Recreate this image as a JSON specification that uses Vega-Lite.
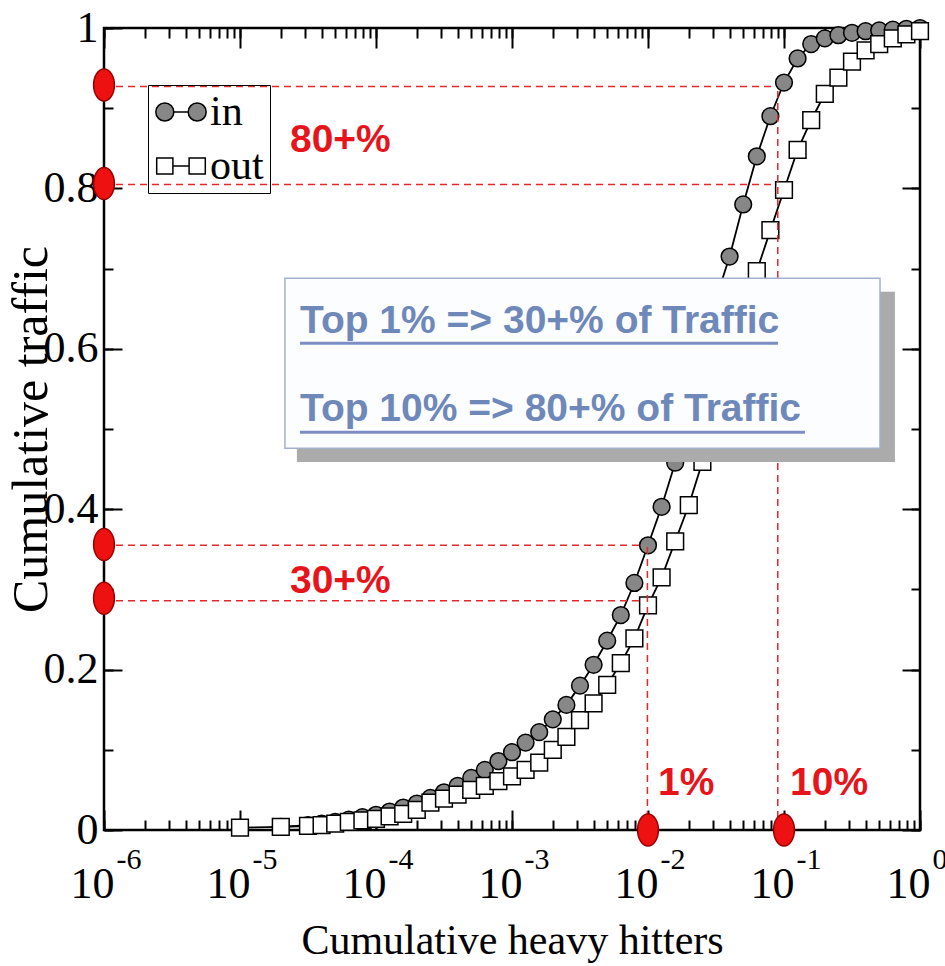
{
  "$schema": "https://vega.github.io/schema/vega-lite/v6.json",
  "width": 816,
  "height": 802,
  "autosize": {"type": "none"},
  "padding": {"left": 104, "top": 28, "right": 25, "bottom": 136},
  "background": "white",
  "config": {
    "view": {"stroke": "black", "strokeWidth": 2.5},
    "axis": {"grid": false, "domain": false, "tickColor": "black", "tickWidth": 2, "labelColor": "black", "titleColor": "black", "labelFlush": false, "labelOverlap": false, "labelFont": "Liberation Serif", "titleFont": "Liberation Serif", "titleFontWeight": "normal"}
  },
  "datasets": {
    "curve": [
      {"h": 0.00001995, "t": 0.004, "dir": "in"},
      {"h": 0.00003162, "t": 0.006, "dir": "in"},
      {"h": 0.00003981, "t": 0.008, "dir": "in"},
      {"h": 0.00005012, "t": 0.010, "dir": "in"},
      {"h": 0.0000631, "t": 0.013, "dir": "in"},
      {"h": 0.00007943, "t": 0.016, "dir": "in"},
      {"h": 0.0001, "t": 0.019, "dir": "in"},
      {"h": 0.0001259, "t": 0.023, "dir": "in"},
      {"h": 0.0001585, "t": 0.028, "dir": "in"},
      {"h": 0.0001995, "t": 0.033, "dir": "in"},
      {"h": 0.0002512, "t": 0.040, "dir": "in"},
      {"h": 0.0003162, "t": 0.047, "dir": "in"},
      {"h": 0.0003981, "t": 0.055, "dir": "in"},
      {"h": 0.0005012, "t": 0.065, "dir": "in"},
      {"h": 0.000631, "t": 0.075, "dir": "in"},
      {"h": 0.0007943, "t": 0.086, "dir": "in"},
      {"h": 0.001, "t": 0.097, "dir": "in"},
      {"h": 0.001259, "t": 0.109, "dir": "in"},
      {"h": 0.001585, "t": 0.122, "dir": "in"},
      {"h": 0.001995, "t": 0.138, "dir": "in"},
      {"h": 0.002512, "t": 0.156, "dir": "in"},
      {"h": 0.003162, "t": 0.180, "dir": "in"},
      {"h": 0.003981, "t": 0.206, "dir": "in"},
      {"h": 0.005012, "t": 0.236, "dir": "in"},
      {"h": 0.00631, "t": 0.268, "dir": "in"},
      {"h": 0.007943, "t": 0.308, "dir": "in"},
      {"h": 0.01, "t": 0.355, "dir": "in"},
      {"h": 0.01259, "t": 0.403, "dir": "in"},
      {"h": 0.01585, "t": 0.458, "dir": "in"},
      {"h": 0.01995, "t": 0.530, "dir": "in"},
      {"h": 0.02512, "t": 0.600, "dir": "in"},
      {"h": 0.03162, "t": 0.662, "dir": "in"},
      {"h": 0.03981, "t": 0.715, "dir": "in"},
      {"h": 0.05012, "t": 0.780, "dir": "in"},
      {"h": 0.0631, "t": 0.840, "dir": "in"},
      {"h": 0.07943, "t": 0.890, "dir": "in"},
      {"h": 0.1, "t": 0.932, "dir": "in"},
      {"h": 0.1259, "t": 0.962, "dir": "in"},
      {"h": 0.1585, "t": 0.980, "dir": "in"},
      {"h": 0.1995, "t": 0.987, "dir": "in"},
      {"h": 0.2512, "t": 0.991, "dir": "in"},
      {"h": 0.3162, "t": 0.994, "dir": "in"},
      {"h": 0.3981, "t": 0.996, "dir": "in"},
      {"h": 0.5012, "t": 0.997, "dir": "in"},
      {"h": 0.631, "t": 0.998, "dir": "in"},
      {"h": 0.7943, "t": 0.999, "dir": "in"},
      {"h": 1, "t": 1.0, "dir": "in"},
      {"h": 0.00001, "t": 0.003, "dir": "out"},
      {"h": 0.00001995, "t": 0.004, "dir": "out"},
      {"h": 0.00003162, "t": 0.005, "dir": "out"},
      {"h": 0.00003981, "t": 0.006, "dir": "out"},
      {"h": 0.00005012, "t": 0.008, "dir": "out"},
      {"h": 0.0000631, "t": 0.010, "dir": "out"},
      {"h": 0.00007943, "t": 0.012, "dir": "out"},
      {"h": 0.0001, "t": 0.014, "dir": "out"},
      {"h": 0.0001259, "t": 0.017, "dir": "out"},
      {"h": 0.0001585, "t": 0.020, "dir": "out"},
      {"h": 0.0001995, "t": 0.025, "dir": "out"},
      {"h": 0.0002512, "t": 0.034, "dir": "out"},
      {"h": 0.0003162, "t": 0.039, "dir": "out"},
      {"h": 0.0003981, "t": 0.044, "dir": "out"},
      {"h": 0.0005012, "t": 0.050, "dir": "out"},
      {"h": 0.000631, "t": 0.055, "dir": "out"},
      {"h": 0.0007943, "t": 0.061, "dir": "out"},
      {"h": 0.001, "t": 0.067, "dir": "out"},
      {"h": 0.001259, "t": 0.075, "dir": "out"},
      {"h": 0.001585, "t": 0.084, "dir": "out"},
      {"h": 0.001995, "t": 0.100, "dir": "out"},
      {"h": 0.002512, "t": 0.116, "dir": "out"},
      {"h": 0.003162, "t": 0.137, "dir": "out"},
      {"h": 0.003981, "t": 0.158, "dir": "out"},
      {"h": 0.005012, "t": 0.181, "dir": "out"},
      {"h": 0.00631, "t": 0.208, "dir": "out"},
      {"h": 0.007943, "t": 0.239, "dir": "out"},
      {"h": 0.01, "t": 0.280, "dir": "out"},
      {"h": 0.01259, "t": 0.315, "dir": "out"},
      {"h": 0.01585, "t": 0.360, "dir": "out"},
      {"h": 0.01995, "t": 0.405, "dir": "out"},
      {"h": 0.02512, "t": 0.459, "dir": "out"},
      {"h": 0.03162, "t": 0.520, "dir": "out"},
      {"h": 0.03981, "t": 0.580, "dir": "out"},
      {"h": 0.05012, "t": 0.640, "dir": "out"},
      {"h": 0.0631, "t": 0.697, "dir": "out"},
      {"h": 0.07943, "t": 0.748, "dir": "out"},
      {"h": 0.1, "t": 0.798, "dir": "out"},
      {"h": 0.1259, "t": 0.848, "dir": "out"},
      {"h": 0.1585, "t": 0.885, "dir": "out"},
      {"h": 0.1995, "t": 0.918, "dir": "out"},
      {"h": 0.2512, "t": 0.938, "dir": "out"},
      {"h": 0.3162, "t": 0.958, "dir": "out"},
      {"h": 0.3981, "t": 0.972, "dir": "out"},
      {"h": 0.5012, "t": 0.980, "dir": "out"},
      {"h": 0.631, "t": 0.987, "dir": "out"},
      {"h": 0.7943, "t": 0.992, "dir": "out"},
      {"h": 1, "t": 0.996, "dir": "out"}
    ],
    "hl": [
      {"x": 0.000001, "x2": 0.086, "y": 0.927},
      {"x": 0.000001, "x2": 0.088, "y": 0.805},
      {"x": 0.000001, "x2": 0.0088, "y": 0.355},
      {"x": 0.000001, "x2": 0.0088, "y": 0.286}
    ],
    "vl": [
      {"x": 0.0099, "y": 0, "y2": 0.355},
      {"x": 0.09, "y": 0, "y2": 0.927}
    ],
    "dots": [
      {"x": 0.000001, "y": 0.929},
      {"x": 0.000001, "y": 0.806},
      {"x": 0.000001, "y": 0.356},
      {"x": 0.000001, "y": 0.289},
      {"x": 0.01, "y": 0},
      {"x": 0.1, "y": 0}
    ],
    "shadow": [{"x": 0.0000262, "x2": 0.654, "y": 0.671, "y2": 0.459}],
    "box": [{"x": 0.0000214, "x2": 0.508, "y": 0.688, "y2": 0.476}],
    "msg": [
      {"x": 0.0000276, "y": 0.62, "label": "Top 1% => 30+% of Traffic"},
      {"x": 0.0000276, "y": 0.51, "label": "Top 10% => 80+% of Traffic"}
    ],
    "uline": [
      {"x": 0.0000276, "x2": 0.0904, "y": 0.607},
      {"x": 0.0000276, "x2": 0.1426, "y": 0.496}
    ],
    "pct": [
      {"x": 0.0000233, "y": 0.845, "label": "80+%"},
      {"x": 0.0000233, "y": 0.295, "label": "30+%"},
      {"x": 0.01186, "y": 0.044, "label": "1%"},
      {"x": 0.1107, "y": 0.044, "label": "10%"}
    ]
  },
  "layer": [
    {
      "data": {"name": "curve"},
      "mark": {"type": "line", "color": "black", "strokeWidth": 1.8},
      "encoding": {
        "x": {"field": "h", "type": "quantitative", "scale": {"type": "log", "domain": [0.000001, 1]},
          "axis": {"orient": "bottom", "values": [0.000001, 0.00001, 0.0001, 0.001, 0.01, 0.1, 1], "tickSize": -20, "labelExpr": "'10'", "labelFontSize": 44, "labelPadding": 52, "labelOffset": -12, "title": "Cumulative heavy hitters", "titleFontSize": 42, "titlePadding": 14}},
        "y": {"field": "t", "type": "quantitative", "scale": {"domain": [0, 1]},
          "axis": {"orient": "left", "values": [0, 0.2, 0.4, 0.6, 0.8, 1], "format": "~g", "tickSize": -18, "labelFontSize": 44, "labelPadding": 24, "title": "Cumulative traffic", "titleFontSize": 50, "titlePadding": -13}},
        "detail": {"field": "dir"}
      }
    },
    {
      "data": {"name": "curve"},
      "transform": [{"filter": "datum.dir === 'in'"}],
      "mark": {"type": "point", "shape": "circle", "filled": true, "fill": "#878787", "stroke": "black", "strokeWidth": 1.5, "size": 280, "opacity": 1},
      "encoding": {
        "x": {"field": "h", "type": "quantitative", "scale": {"type": "log", "domain": [0.000001, 1]},
          "axis": {"orient": "bottom", "values": [0.000001, 0.000002, 0.000003, 0.000004, 0.000005, 0.000006, 0.000007, 0.000008, 0.000009, 0.00001, 0.00002, 0.00003, 0.00004, 0.00005, 0.00006, 0.00007, 0.00008, 0.00009, 0.0001, 0.0002, 0.0003, 0.0004, 0.0005, 0.0006, 0.0007, 0.0008, 0.0009, 0.001, 0.002, 0.003, 0.004, 0.005, 0.006, 0.007, 0.008, 0.009, 0.01, 0.02, 0.03, 0.04, 0.05, 0.06, 0.07, 0.08, 0.09, 0.1, 0.2, 0.3, 0.4, 0.5, 0.6, 0.7, 0.8, 0.9, 1],
            "tickSize": -10, "labelExpr": "abs(log(datum.value)/LN10 - round(log(datum.value)/LN10)) < 0.001 ? (round(log(datum.value)/LN10) == 0 ? '0' : '-' + (-round(log(datum.value)/LN10))) : ''", "labelFontSize": 30, "labelAlign": "left", "labelOffset": 12, "labelPadding": 24, "title": null}},
        "y": {"field": "t", "type": "quantitative", "scale": {"domain": [0, 1]},
          "axis": {"orient": "left", "values": [0, 0.1, 0.2, 0.3, 0.4, 0.5, 0.6, 0.7, 0.8, 0.9, 1], "tickSize": -9, "labels": false, "title": null}}
      }
    },
    {
      "data": {"name": "curve"},
      "transform": [{"filter": "datum.dir === 'out'"}],
      "mark": {"type": "point", "shape": "square", "filled": true, "fill": "#ffffff", "stroke": "black", "strokeWidth": 1.5, "size": 280, "opacity": 1},
      "encoding": {
        "x": {"field": "h", "type": "quantitative", "scale": {"type": "log", "domain": [0.000001, 1]}, "axis": null},
        "y": {"field": "t", "type": "quantitative", "scale": {"domain": [0, 1]}, "axis": null}
      }
    },
    {
      "data": {"name": "curve"},
      "transform": [{"filter": "false"}],
      "mark": {"type": "point", "filled": true, "strokeWidth": 1.5, "opacity": 1},
      "encoding": {
        "x": {"field": "h", "type": "quantitative", "scale": {"type": "log", "domain": [0.000001, 1]}, "axis": null},
        "y": {"field": "t", "type": "quantitative", "scale": {"domain": [0, 1]}, "axis": null},
        "shape": {"field": "dir", "type": "nominal",
          "scale": {"domain": ["in", "out"], "range": ["M-2.8 0 A1 1 0 1 0 -0.8 0 A1 1 0 1 0 -2.8 0 Z M0.8 0 A1 1 0 1 0 2.8 0 A1 1 0 1 0 0.8 0 Z M-0.8 0 L0.8 0", "M-2.7 -0.9 H-0.9 V0.9 H-2.7 Z M0.9 -0.9 H2.7 V0.9 H0.9 Z M-0.9 0 L0.9 0"]},
          "legend": {"orient": "none", "legendX": 44, "legendY": 57, "title": null, "labelFont": "Liberation Serif", "labelFontSize": 42, "labelColor": "black", "padding": 6, "rowPadding": 12, "symbolSize": 324, "symbolOffset": 6, "labelOffset": 8, "symbolStrokeWidth": 1.5, "strokeColor": "black"}},
        "fill": {"field": "dir", "type": "nominal", "scale": {"domain": ["in", "out"], "range": ["#878787", "#ffffff"]}},
        "stroke": {"field": "dir", "type": "nominal", "scale": {"domain": ["in", "out"], "range": ["black", "black"]}}
      }
    },
    {
      "data": {"name": "hl"},
      "mark": {"type": "rule", "color": "#e8262c", "strokeWidth": 1.5, "strokeDash": [7, 5]},
      "encoding": {
        "x": {"field": "x", "type": "quantitative", "scale": {"type": "log", "domain": [0.000001, 1]},
          "axis": {"orient": "top", "values": [0.000001, 0.00001, 0.0001, 0.001, 0.01, 0.1, 1], "tickSize": -20, "labels": false, "title": null}},
        "x2": {"field": "x2"},
        "y": {"field": "y", "type": "quantitative", "scale": {"domain": [0, 1]},
          "axis": {"orient": "right", "values": [0, 0.2, 0.4, 0.6, 0.8, 1], "tickSize": -18, "labels": false, "title": null}}
      }
    },
    {
      "data": {"name": "vl"},
      "mark": {"type": "rule", "color": "#e8262c", "strokeWidth": 1.5, "strokeDash": [7, 5]},
      "encoding": {
        "x": {"field": "x", "type": "quantitative", "scale": {"type": "log", "domain": [0.000001, 1]},
          "axis": {"orient": "top", "values": [0.000001, 0.000002, 0.000003, 0.000004, 0.000005, 0.000006, 0.000007, 0.000008, 0.000009, 0.00001, 0.00002, 0.00003, 0.00004, 0.00005, 0.00006, 0.00007, 0.00008, 0.00009, 0.0001, 0.0002, 0.0003, 0.0004, 0.0005, 0.0006, 0.0007, 0.0008, 0.0009, 0.001, 0.002, 0.003, 0.004, 0.005, 0.006, 0.007, 0.008, 0.009, 0.01, 0.02, 0.03, 0.04, 0.05, 0.06, 0.07, 0.08, 0.09, 0.1, 0.2, 0.3, 0.4, 0.5, 0.6, 0.7, 0.8, 0.9, 1], "tickSize": -10, "labels": false, "title": null}},
        "y": {"field": "y", "type": "quantitative", "scale": {"domain": [0, 1]},
          "axis": {"orient": "right", "values": [0, 0.1, 0.2, 0.3, 0.4, 0.5, 0.6, 0.7, 0.8, 0.9, 1], "tickSize": -9, "labels": false, "title": null}},
        "y2": {"field": "y2"}
      }
    },
    {
      "data": {"name": "dots"},
      "mark": {"type": "point", "filled": true, "shape": "M-0.65 0 A0.65 1 0 1 0 0.65 0 A0.65 1 0 1 0 -0.65 0 Z", "size": 1024, "fill": "#ee1111", "stroke": "#9a0000", "strokeWidth": 1.5, "opacity": 1},
      "encoding": {
        "x": {"field": "x", "type": "quantitative", "scale": {"type": "log", "domain": [0.000001, 1]}, "axis": null},
        "y": {"field": "y", "type": "quantitative", "scale": {"domain": [0, 1]}, "axis": null}
      }
    },
    {
      "data": {"name": "shadow"},
      "mark": {"type": "rect", "fill": "#ababab"},
      "encoding": {
        "x": {"field": "x", "type": "quantitative", "scale": {"type": "log", "domain": [0.000001, 1]}, "axis": null},
        "x2": {"field": "x2"},
        "y": {"field": "y", "type": "quantitative", "scale": {"domain": [0, 1]}, "axis": null},
        "y2": {"field": "y2"}
      }
    },
    {
      "data": {"name": "box"},
      "mark": {"type": "rect", "fill": "#fcfdff", "stroke": "#a3b1cc", "strokeWidth": 1.5},
      "encoding": {
        "x": {"field": "x", "type": "quantitative", "scale": {"type": "log", "domain": [0.000001, 1]}, "axis": null},
        "x2": {"field": "x2"},
        "y": {"field": "y", "type": "quantitative", "scale": {"domain": [0, 1]}, "axis": null},
        "y2": {"field": "y2"}
      }
    },
    {
      "data": {"name": "uline"},
      "mark": {"type": "rule", "color": "#7c8dc4", "strokeWidth": 3},
      "encoding": {
        "x": {"field": "x", "type": "quantitative", "scale": {"type": "log", "domain": [0.000001, 1]}, "axis": null},
        "x2": {"field": "x2"},
        "y": {"field": "y", "type": "quantitative", "scale": {"domain": [0, 1]}, "axis": null}
      }
    },
    {
      "data": {"name": "msg"},
      "mark": {"type": "text", "align": "left", "baseline": "alphabetic", "font": "Liberation Sans", "fontWeight": "bold", "fontSize": 39, "color": "#6f88ba"},
      "encoding": {
        "x": {"field": "x", "type": "quantitative", "scale": {"type": "log", "domain": [0.000001, 1]}, "axis": null},
        "y": {"field": "y", "type": "quantitative", "scale": {"domain": [0, 1]}, "axis": null},
        "text": {"field": "label"}
      }
    },
    {
      "data": {"name": "pct"},
      "mark": {"type": "text", "align": "left", "baseline": "alphabetic", "font": "Liberation Sans", "fontWeight": "bold", "fontSize": 39, "color": "#e8141c"},
      "encoding": {
        "x": {"field": "x", "type": "quantitative", "scale": {"type": "log", "domain": [0.000001, 1]}, "axis": null},
        "y": {"field": "y", "type": "quantitative", "scale": {"domain": [0, 1]}, "axis": null},
        "text": {"field": "label"}
      }
    }
  ],
  "resolve": {"axis": {"x": "independent", "y": "independent"}}
}
